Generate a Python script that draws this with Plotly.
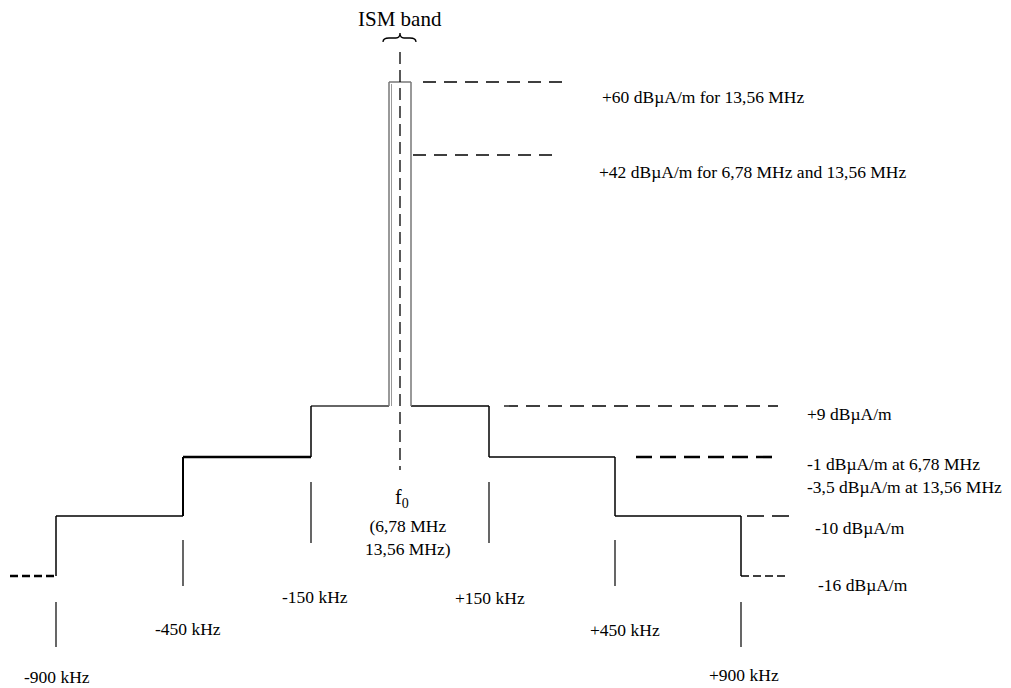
import plotly.graph_objects as go

# ---------------- data ----------------
freq_khz = [-900, -450, -150, 150, 450, 900]
freq_labels = ["-900 kHz", "-450 kHz", "-150 kHz", "+150 kHz", "+450 kHz", "+900 kHz"]
# mask level of each band, outer-left to outer-right (ISM band in the middle)
band_levels = [-16, -10, -1, 9, 60, 9, -1, -10, -16]
level_values = [60, 42, 9, -1, -10, -16]
level_labels = [
    "+60 dBµA/m for 13,56 MHz",
    "+42 dBµA/m for 6,78 MHz and 13,56 MHz",
    "+9 dBµA/m",
    "-1 dBµA/m at 6,78 MHz<br>-3,5 dBµA/m at 13,56 MHz",
    "-10 dBµA/m",
    "-16 dBµA/m",
]
center_label = "f<sub>0</sub>"
center_sub = ["(6,78 MHz", "13,56 MHz)"]
ism_label = "ISM band"

# ---------------- schematic layout (diagram is not to scale) ----------------
X_POS = {-900: 56, -450: 183, -150: 311, 0: 400, 150: 489, 450: 615, 900: 741}
ISM_EDGES = (389, 411)
OUTER = (10, 786)
Y_POS = {60: 82, 42: 155, 9: 406, -1: 457, -10: 516, -16: 576}
tick_span = {900: (602, 647), 450: (540, 586), 150: (482, 543)}
tick_label_xy = {-900: (57, 677), -450: (188, 629), -150: (315, 597),
                 150: (490, 598), 450: (625, 630), 900: (744, 675)}
ref_line = {  # level -> (x0, x1, dash, width)
    60: (423, 564, "13px,8px", 1.3),
    42: (413, 557, "13px,8px", 1.3),
    9: (504, 778, "14px,8px", 1.3),
    -1: (636, 776, "16px,8px", 2.6),
    -10: (747, 790, "17px,8px", 1.3),
}
label_pos = {60: (600, 97), 42: (597, 172), 9: (805, 414), -1: (805, 475),
             -10: (813, 528), -16: (816, 585)}

FONT = "Liberation Serif"
FS = 17.5
fig = go.Figure()


def seg(x, y, color="black", width=1.5, dash=None):
    fig.add_trace(go.Scatter(x=x, y=y, mode="lines",
                             line=dict(color=color, width=width, dash=dash),
                             hoverinfo="skip", showlegend=False))


# step mask: horizontal band segments
edges = [OUTER[0], X_POS[-900], X_POS[-450], X_POS[-150], ISM_EDGES[0],
         ISM_EDGES[1], X_POS[150], X_POS[450], X_POS[900], OUTER[1]]
n = len(band_levels)
styles = {
    0: dict(width=2.6, dash="8px,4px"),
    1: dict(width=1.5),
    2: dict(width=2.4),
    3: dict(color="#333333", width=1.6),
    4: dict(color="#777777", width=1.5),
    5: dict(width=1.5),
    6: dict(width=1.5),
    7: dict(width=1.5),
    8: dict(width=1.3, dash="8px,4px"),
}
for i in range(n):
    seg([edges[i], edges[i + 1]], [Y_POS[band_levels[i]]] * 2, **styles[i])

# vertical connectors at band edges
for i in range(1, n):
    col = "#777777" if i in (4, 5) else "black"
    w = 2.0 if i == 2 else 1.5
    seg([edges[i], edges[i]], [Y_POS[band_levels[i - 1]], Y_POS[band_levels[i]]], color=col, width=w)
# inner line of ISM rectangle (double line)
seg([ISM_EDGES[0] + 2.5, ISM_EDGES[0] + 2.5], [Y_POS[9], Y_POS[60] + 2], color="#999999", width=1)

# centre dashed line
seg([X_POS[0], X_POS[0]], [52, 470], width=1.3, dash="12px,6px")

# reference dashed lines
for lvl, (x0, x1, dash, w) in ref_line.items():
    seg([x0, x1], [Y_POS[lvl]] * 2, width=w, dash=dash)

# frequency tick marks and labels
for f, lab in zip(freq_khz, freq_labels):
    y0, y1 = tick_span[abs(f)]
    seg([X_POS[f], X_POS[f]], [y0, y1], width=1.2)
    lx, ly = tick_label_xy[f]
    fig.add_annotation(x=lx, y=ly, text=lab, showarrow=False, xanchor="center", yanchor="middle",
                       font=dict(family=FONT, size=FS, color="black"))

# level labels
for lvl, lab in zip(level_values, level_labels):
    lx, ly = label_pos[lvl]
    fig.add_annotation(x=lx, y=ly, text=lab, showarrow=False, xanchor="left",
                       yanchor="middle", align="left",
                       font=dict(family=FONT, size=FS, color="black"))

# centre labels
fig.add_annotation(x=X_POS[0] + 2, y=498, text=center_label, showarrow=False,
                   font=dict(family=FONT, size=20, color="black"))
fig.add_annotation(x=X_POS[0] + 8, y=537, text="<br>".join(center_sub), showarrow=False,
                   align="center", font=dict(family=FONT, size=FS, color="black"))
fig.add_annotation(x=X_POS[0], y=19, text=ism_label, showarrow=False,
                   font=dict(family=FONT, size=21, color="black"))

# ISM brace
c = X_POS[0]
l, r = 383, 416
fig.add_shape(type="path",
              path=(f"M {l},42 Q {l},38 {l+6},38 L {c-4},38 Q {c},38 {c},33 "
                    f"Q {c},38 {c+4},38 L {r-6},38 Q {r},38 {r},42"),
              line=dict(color="black", width=1.3), xref="x", yref="y")

fig.update_layout(
    width=1011, height=688,
    margin=dict(l=0, r=0, t=0, b=0),
    paper_bgcolor="white", plot_bgcolor="white",
    xaxis=dict(range=[0, 1011], visible=False, fixedrange=True),
    yaxis=dict(range=[688, 0], visible=False, fixedrange=True),
    showlegend=False,
)
fig.write_html("out.html", config={"displayModeBar": False},
               post_script="document.body.style.margin='0';document.body.style.overflow='hidden';")
